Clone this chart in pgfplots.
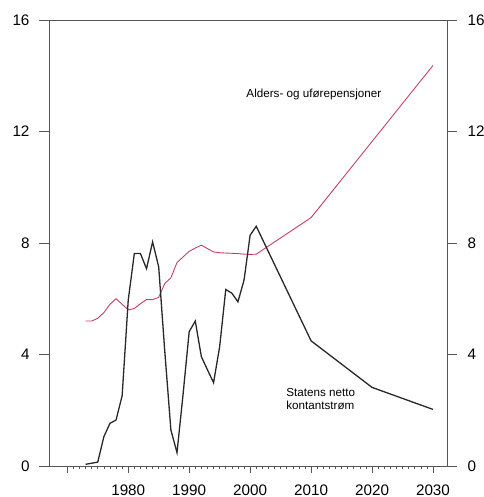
\documentclass[border=0pt]{standalone}
\usepackage{fontspec}
\setmainfont{Liberation Sans}
\usepackage{pgfplots}
\pgfplotsset{compat=1.18}
\definecolor{pensred}{RGB}{198,62,102}
\definecolor{cashblk}{RGB}{40,40,40}
\definecolor{axgray}{RGB}{85,85,85}
\begin{document}
\begin{tikzpicture}
\begin{axis}[
  name=main,
  scale only axis, width=398bp, height=446bp,
  xmin=1967, xmax=2032.3, ymin=0, ymax=16,
  axis line style={axgray, line width=0.6bp},
  every tick/.style={axgray, line width=0.6bp},
  tick align=outside,
  xtick pos=bottom, ytick pos=left,
  xtick={1970,1980,...,2030},
  xticklabels={,1980,1990,2000,2010,2020,2030},
  minor x tick num=9,
  major tick length=7bp, minor tick length=3bp,
  ytick style={/pgfplots/major tick length=10bp},
  ytick={0,4,...,16},
  tick label style={font=\fontsize{15.3}{18}\selectfont},
  /pgf/number format/assume math mode=true,
  /pgf/number format/1000 sep={},
  yticklabel style={anchor=east, xshift=-9bp},
  xticklabel style={anchor=north, yshift=-8bp},
  clip=false,
]
\addplot[pensred, line width=0.9bp] coordinates {
(1973,5.2) (1974,5.2) (1975,5.3) (1976,5.5) (1977,5.8) (1978,6.0) (1979,5.8)
(1980,5.6) (1981,5.65) (1982,5.82) (1983,5.97) (1984,5.97) (1985,6.05)
(1986,6.55) (1987,6.75) (1988,7.3) (1989,7.5) (1990,7.7) (1991,7.82)
(1992,7.92) (1993,7.8) (1994,7.68) (1995,7.65) (1996,7.64) (1997,7.63)
(1998,7.62) (1999,7.6) (2000,7.59) (2001,7.6) (2010,8.91) (2020,11.64) (2030,14.37)
};
\addplot[cashblk, line width=1.3bp] coordinates {
(1973,0.06) (1974,0.10) (1975,0.14) (1976,1.05) (1977,1.53) (1978,1.65)
(1979,2.52) (1980,5.95) (1981,7.62) (1982,7.62) (1983,7.08) (1984,8.04)
(1985,7.14) (1986,4.1) (1987,1.29) (1988,0.48) (1989,2.58) (1990,4.82)
(1991,5.2) (1992,3.92) (1993,3.45) (1994,2.99) (1995,4.28) (1996,6.33)
(1997,6.2) (1998,5.89) (1999,6.67) (2000,8.28) (2001,8.6) (2010,4.49)
(2020,2.82) (2030,2.03)
};
\node[anchor=base west, inner sep=0pt, font=\fontsize{11.7}{13}\selectfont] at (axis cs:1999.37,13.23) {Alders- og uførepensjoner};
\node[anchor=base west, inner sep=0pt, font=\fontsize{11.7}{13}\selectfont] at (axis cs:2005.92,2.49) {Statens netto};
\node[anchor=base west, inner sep=0pt, font=\fontsize{11.7}{13}\selectfont] at (axis cs:2005.92,2.03) {kontantstrøm};
\end{axis}
\begin{axis}[
  scale only axis, width=398bp, height=446bp,
  xmin=1967, xmax=2032.3, ymin=0, ymax=16,
  axis x line=none,
  axis y line*=right,
  axis line style={axgray, line width=0.6bp, -},
  every tick/.style={axgray, line width=0.6bp},
  tick align=outside,
  major tick length=10bp,
  ytick={0,4,...,16},
  tick label style={font=\fontsize{15.3}{18}\selectfont},
  /pgf/number format/assume math mode=true,
  yticklabel style={anchor=west, xshift=7bp},
]
\end{axis}
\pgfresetboundingbox
\path[use as bounding box] ([xshift=-49bp,yshift=-31bp]main.south west) rectangle ([xshift=36bp,yshift=20bp]main.north east);
\end{tikzpicture}
\end{document}
